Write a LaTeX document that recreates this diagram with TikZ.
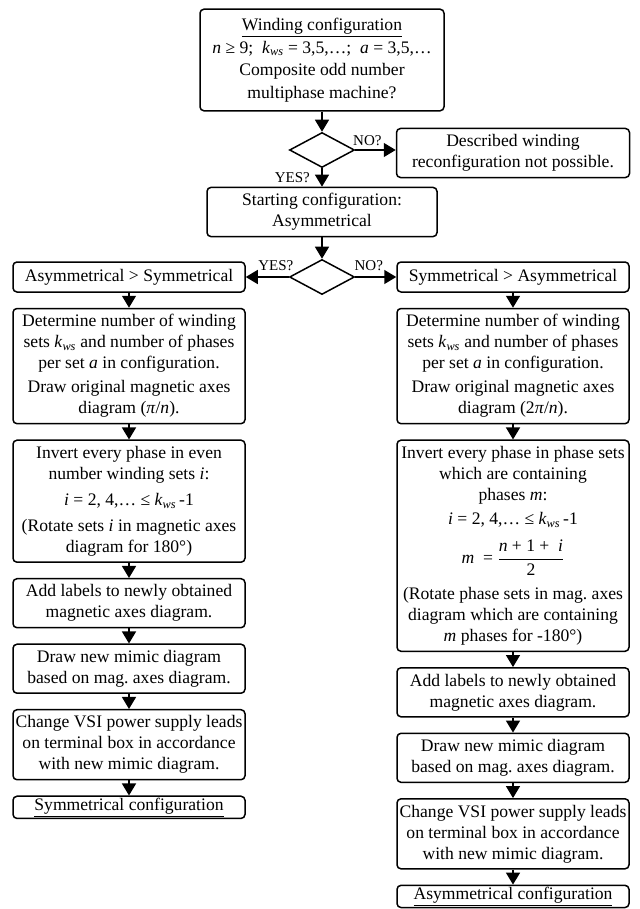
\documentclass[tikz,border=0pt]{standalone}
\usepackage{fontspec}
\setmainfont{Liberation Serif}
\usetikzlibrary{shapes.geometric}
\usetikzlibrary{arrows.meta}
\usetikzlibrary{positioning}
\frenchspacing
\newcommand{\kws}{\textit{k}\textsubscript{\textit{ws}}}
\tikzset{
	blk/.style={draw,rounded corners=4pt,line width=1.5pt,align=center,
		inner xsep=2pt,inner ysep=6pt,minimum width=232pt},
	cfg/.style={blk,inner ysep=2pt},
	cond/.style={diamond,draw,line width=1.5pt,minimum width=65pt,
		minimum height=35pt,inner sep=0pt},
	ans/.style={font=\fontsize{15}{17}\selectfont,inner sep=1.5pt},
	flow/.style={line width=1.5pt,-{Triangle[length=12pt,width=14pt]}}
}

\begin{document}
\begin{tikzpicture}[x=1pt,y=-1pt,font=\fontsize{17.6}{21}\selectfont,
	node distance=15pt]
	\useasboundingbox (0,0) rectangle (639,909);
	\node [blk,minimum width=244pt,inner ysep=9pt,
		font=\fontsize{17.6}{22.5}\selectfont] (wind) at (322,60)
		{\underline{Winding configuration}\\
		\textit{n} ≥ 9;\ \ \kws{} = 3,5,…;\ \ \textit{a} = 3,5,…\\
		Composite odd number\\ multiphase machine?};
	\node [cond] (q1) at (322,150) {};
	\node [blk,minimum width=233pt] (none) at (513,153)
		{Described winding\\ reconfiguration not possible.};
	\node [blk,minimum width=230pt] (start) at (322,212)
		{Starting configuration:\\ Asymmetrical};
	\node [cond] (q2) at (322,277) {};
	\node [blk,minimum height=30pt] (a2s) at (129,277) {Asymmetrical > Symmetrical};
	\node [blk,minimum height=30pt] (s2a) at (513,277) {Symmetrical > Asymmetrical};
	% left branch
	\node [blk,below=of a2s] (l1)
		{Determine number of winding\\ sets \kws{} and number of phases\\
		per set \textit{a} in configuration.\\[3pt]
		Draw original magnetic axes\\ diagram (\textit{π}/\textit{n}).};
	\node [blk,below=of l1] (l2)
		{Invert every phase in even\\ number winding sets \textit{i}:\\[5pt]
		\textit{i} = 2, 4,… ≤ \kws\,-1\\[5pt]
		(Rotate sets \textit{i} in magnetic axes\\ diagram for 180°)};
	\node [blk,below=of l2] (l3)
		{Add labels to newly obtained\\ magnetic axes diagram.};
	\node [blk,below=of l3] (l4)
		{Draw new mimic diagram\\ based on mag.\ axes diagram.};
	\node [blk,below=of l4] (l5)
		{Change VSI power supply leads\\ on terminal box in accordance\\
		with new mimic diagram.};
	\node [cfg,below=of l5] (l6) {\underline{Symmetrical configuration}};
	% right branch
	\node [blk,below=of s2a] (r1)
		{Determine number of winding\\ sets \kws{} and number of phases\\
		per set \textit{a} in configuration.\\[3pt]
		Draw original magnetic axes\\ diagram (2\textit{π}/\textit{n}).};
	\node [blk,below=of r1] (r2)
		{Invert every phase in phase sets\\ which are containing\\
		phases \textit{m}:\\[3pt]
		\textit{i} = 2, 4,… ≤ \kws\,-1\\[12pt]
		\textit{m}\ \ = $\displaystyle\frac{\mbox{\rule[-6pt]{0pt}{16pt}\textit{n} + 1 +\ \ \textit{i}}}%
			{\mbox{\rule[-5pt]{0pt}{17pt}2}}$\\[6pt]
		(Rotate phase sets in mag.\ axes\\ diagram which are containing\\
		\textit{m} phases for -180°)};
	\node [blk,below=of r2] (r3)
		{Add labels to newly obtained\\ magnetic axes diagram.};
	\node [blk,below=of r3] (r4)
		{Draw new mimic diagram\\ based on mag.\ axes diagram.};
	\node [blk,below=of r4] (r5)
		{Change VSI power supply leads\\ on terminal box in accordance\\
		with new mimic diagram.};
	\node [cfg,below=of r5] (r6) {\underline{Asymmetrical configuration}};
	% connectors
	\draw [flow] (wind) -- (q1);
	\draw [flow] (q1.east) -- node [ans,above=2pt,pos=0.3] {NO?} (q1.east -| none.west);
	\draw [flow] (q1) -- node [ans,left=10pt,pos=0.5] {YES?} (start);
	\draw [flow] (start) -- (q2);
	\draw [flow] (q2) -- node [ans,above=4pt,pos=0.3] {YES?} (a2s);
	\draw [flow] (q2) -- node [ans,above=4pt,pos=0.33] {NO?} (s2a);
	\foreach \a/\b in {a2s/l1,l1/l2,l2/l3,l3/l4,l4/l5,l5/l6,
		s2a/r1,r1/r2,r2/r3,r3/r4,r4/r5,r5/r6}
		\draw [flow] (\a) -- (\b);
\end{tikzpicture}
\end{document}
